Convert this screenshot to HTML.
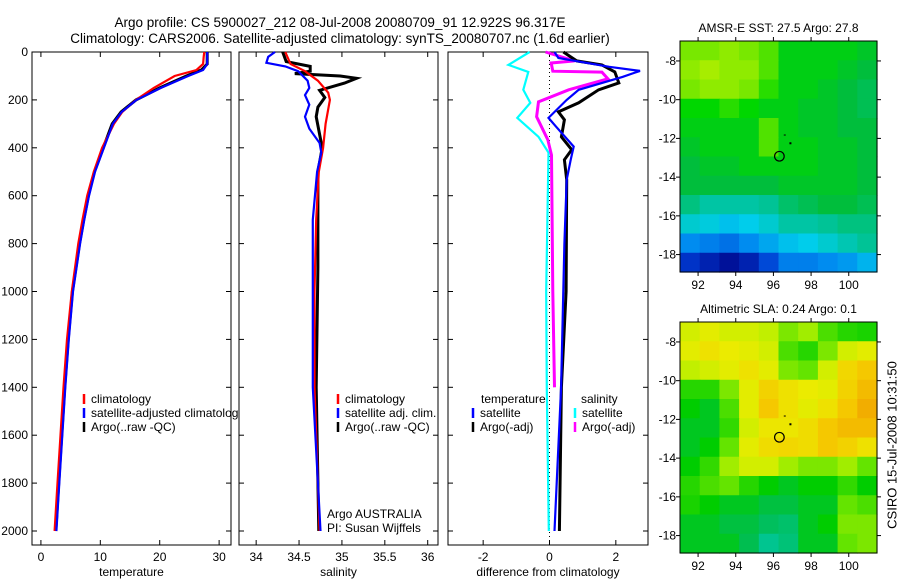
<!DOCTYPE html>
<html><head><meta charset="utf-8"><style>
html,body{margin:0;padding:0;background:#fff;}
svg{display:block;font-family:"Liberation Sans",sans-serif;}
</style></head><body>
<svg id="c" width="900" height="580" viewBox="0 0 900 580">
<text x="340" y="27" font-size="13.5" text-anchor="middle">Argo profile: CS 5900027_212 08-Jul-2008 20080709_91 12.922S 96.317E</text>
<text x="340" y="43" font-size="13.5" text-anchor="middle">Climatology: CARS2006. Satellite-adjusted climatology: synTS_20080707.nc (1.6d earlier)</text>
<text x="893" y="445" font-size="13" text-anchor="middle" transform="rotate(-90 893 445)" dominant-baseline="middle">CSIRO 15-Jul-2008 10:31:50</text>
</svg>
<script>
// ---------- data ----------
const tDepth=[0,20,50,75,100,150,200,250,300,400,500,600,700,800,1000,1200,1400,1600,1800,2000];
const tempArgo=[28,28,28,27,24.5,20,16,13.5,12,10.5,9,8,7.2,6.5,5.3,4.6,4.0,3.5,3.0,2.5];
const tempClim=[27.5,27.4,27.3,26.2,22.5,19,16,13.7,12.3,10.3,8.9,7.8,7.0,6.3,5.2,4.4,3.8,3.3,2.8,2.3];
const tempSat=[28,28,28,27.3,24.8,20.2,16.1,13.6,12.1,10.6,9.1,8.1,7.3,6.6,5.4,4.7,4.1,3.6,3.1,2.6];

const sDepthArgo=[0,40,60,80,90,100,110,130,160,190,230,270,400,500,600,900,1400,2000];
const salArgo=[34.31,34.35,34.63,34.63,34.45,34.98,35.17,35.03,34.74,34.8,34.72,34.7,34.77,34.72,34.72,34.72,34.7,34.73];
const sDepthClim=[0,50,80,120,170,200,300,400,500,700,1000,1400,2000];
const salClim=[34.34,34.4,34.57,34.72,34.84,34.86,34.81,34.78,34.73,34.7,34.68,34.68,34.74];
const sDepthSat=[0,20,45,60,80,120,150,180,220,270,320,380,420,500,700,1000,1400,2000];
const salSat=[34.22,34.14,34.12,34.34,34.49,34.6,34.62,34.57,34.62,34.57,34.62,34.74,34.76,34.71,34.66,34.66,34.66,34.75];

const dTempSatDepth=[0,25,62,79,104,158,200,275,312,395,450,533,800,1400,2000];
const dTempSat=[0.15,0.27,1.8,2.73,2.2,0.88,0.52,-0.03,0.2,0.73,0.64,0.52,0.45,0.35,0.15];
const dTempArgoDepth=[0,37,54,83,129,158,212,250,283,354,408,450,533,1000,1400,2000];
const dTempArgo=[0.42,0.82,1.58,1.97,2.09,1.48,0.88,0.27,0.45,0.36,0.67,0.45,0.52,0.5,0.36,0.3];
const dSalSatDepth=[0,54,83,158,212,275,354,420,1000,1400,2000];
const dSalSat=[-0.6,-1.24,-0.64,-0.79,-0.58,-0.97,-0.33,-0.03,-0.1,-0.08,-0.02];
const dSalArgoDepth=[0,37,46,80,84,112,158,208,270,366,430,1000,1400];
const dSalArgo=[-0.12,0.76,0.05,0.1,1.58,1.76,0.58,-0.33,-0.39,-0.05,0.06,0.1,0.15];

const sstGrid=[
[27.7,27.7,27.8,27.7,27.6,27.3,27.3,27.3,27.3,27.2],
[27.8,27.9,27.8,27.8,27.6,27.3,27.3,27.3,27.2,27.1],
[27.7,27.8,27.8,27.7,27.5,27.3,27.3,27.2,27.1,27.0],
[27.4,27.4,27.5,27.4,27.3,27.3,27.2,27.2,27.1,27.0],
[27.3,27.3,27.3,27.3,27.6,27.3,27.2,27.2,27.1,27.1],
[27.2,27.3,27.3,27.3,27.6,27.3,27.3,27.2,27.2,27.1],
[27.1,27.2,27.2,27.3,27.3,27.3,27.3,27.2,27.2,27.1],
[27.1,27.1,27.1,27.1,27.1,27.2,27.2,27.2,27.2,27.1],
[26.8,26.6,26.6,26.6,26.7,26.9,27.0,27.1,27.1,27.0],
[26.3,26.2,26.0,26.1,26.3,26.6,26.6,26.7,26.8,26.8],
[25.6,25.5,25.4,25.6,25.8,26.0,26.1,26.3,26.5,26.7],
[24.9,24.7,24.5,24.7,25.1,25.5,25.5,25.6,25.7,25.9]];
const slaGrid=[
[0.2,0.22,0.2,0.2,0.18,0.12,0.15,0.08,0.05,0.04],
[0.22,0.25,0.23,0.22,0.2,0.08,0.05,0.12,0.2,0.22],
[0.18,0.2,0.22,0.25,0.22,0.12,0.1,0.2,0.27,0.3],
[0.05,0.05,0.12,0.22,0.28,0.25,0.23,0.22,0.28,0.32],
[0.02,0.0,0.08,0.22,0.3,0.25,0.22,0.25,0.3,0.34],
[0.0,0.0,0.06,0.2,0.24,0.24,0.26,0.3,0.32,0.32],
[0.0,0.02,0.1,0.22,0.26,0.27,0.26,0.3,0.28,0.25],
[0.02,0.06,0.15,0.2,0.2,0.15,0.12,0.12,0.15,0.1],
[0.05,0.08,0.1,0.05,0.02,0.0,0.02,0.02,0.06,0.02],
[0.04,0.02,0.0,0.0,-0.02,-0.02,0.0,0.0,0.1,0.08],
[0.0,0.0,-0.02,-0.02,-0.04,-0.05,0.0,0.02,0.12,0.12],
[0.0,0.0,0.0,-0.03,-0.08,-0.06,0.0,0.0,0.1,0.12]];
const depthTicks=[0,200,400,600,800,1000,1200,1400,1600,1800,2000];
const tempTicks=[0,10,20,30];
const salTicks=[34,34.5,35,35.5,36];
const diffTicks=[-2,0,2];
const lonTicks=[92,94,96,98,100];
const latTicks=[-8,-10,-12,-14,-16,-18];

// ---------- helpers ----------
const NS="http://www.w3.org/2000/svg";
const svg=document.getElementById('c');
function mk(tag,at,parent){const e=document.createElementNS(NS,tag);for(const k in at)e.setAttribute(k,at[k]);(parent||svg).appendChild(e);return e;}
const Y0=52,Y1=545,yD=d=>Y0+d*0.2395;
function panel(name,x0,x1,vmin,vmax,ticks,xlabel,showY){
  const sx=v=>x0+(v-vmin)/(vmax-vmin)*(x1-x0);
  const g=mk('g',{});
  
  
  mk('rect',{x:x0,y:Y0,width:x1-x0,height:Y1-Y0,fill:'#fff',stroke:'#000','stroke-width':1},g);
  ticks.forEach(t=>{const x=sx(t);mk('line',{x1:x,x2:x,y1:Y1,y2:Y1-5,stroke:'#000'},g);mk('line',{x1:x,x2:x,y1:Y0,y2:Y0+5,stroke:'#000'},g);
    const tx=mk('text',{x:x,y:Y1+16,'font-size':12,'text-anchor':'middle'},g);tx.textContent=String(t);});
  depthTicks.forEach(d=>{const y=yD(d);mk('line',{x1:x0,x2:x0+5,y1:y,y2:y,stroke:'#000'},g);mk('line',{x1:x1,x2:x1-5,y1:y,y2:y,stroke:'#000'},g);
    if(showY){const tx=mk('text',{x:x0-4,y:y+4,'font-size':12,'text-anchor':'end'},g);tx.textContent=String(d);}});
  const xl=mk('text',{x:(x0+x1)/2,y:576,'font-size':12,'text-anchor':'middle'},g);xl.textContent=xlabel;
  return {sx,g};
}
function line(p,vals,depths,color,w,name){
  const pts=vals.map((v,i)=>p.sx(v).toFixed(1)+','+yD(depths[i]).toFixed(1)).join(' ');
  const e=mk('polyline',{points:pts,fill:'none',stroke:color,'stroke-width':w},p.g);
  
  
}
function legend(p,x,y,color,label,name){
  mk('line',{x1:x,x2:x,y1:y-9,y2:y+1,stroke:color,'stroke-width':2.5},p.g);
  const t=mk('text',{x:x+7,y:y,'font-size':12},p.g);t.textContent=label;
  
  
}

// ---------- panel 1 temperature ----------
const p1=panel('temperature-panel',32,231,-1.5,32,tempTicks,'temperature',true);
line(p1,tempArgo,tDepth,'#000',3,'temp-argo-line');
line(p1,tempClim,tDepth,'#f00',2.2,'temp-climatology-line');
line(p1,tempSat,tDepth,'#00f',2.2,'temp-satellite-line');
legend(p1,84,403,'#f00','climatology','legend-climatology');
legend(p1,84,417,'#00f','satellite-adjusted climatology','legend-satellite');
legend(p1,84,431,'#000','Argo(..raw -QC)','legend-argo');

// ---------- panel 2 salinity ----------
const p2=panel('salinity-panel',239,438,33.8,36.12,salTicks,'salinity',false);
line(p2,salArgo,sDepthArgo,'#000',3,'sal-argo-line');
line(p2,salClim,sDepthClim,'#f00',2.2,'sal-climatology-line');
line(p2,salSat,sDepthSat,'#00f',2.2,'sal-satellite-line');
legend(p2,338,403,'#f00','climatology','legend-sal-climatology');
legend(p2,338,417,'#00f','satellite adj. clim.','legend-sal-satellite');
legend(p2,338,431,'#000','Argo(..raw -QC)','legend-sal-argo');
let t=mk('text',{x:327,y:518,'font-size':12},p2.g);t.textContent='Argo AUSTRALIA';

t=mk('text',{x:327,y:532,'font-size':12},p2.g);t.textContent='PI: Susan Wijffels';


// ---------- panel 3 differences ----------
const p3=panel('difference-panel',448,648,-3.06,2.97,diffTicks,'difference from climatology',false);
mk('line',{x1:p3.sx(0),x2:p3.sx(0),y1:Y0,y2:yD(2040),stroke:'#000','stroke-dasharray':'1,3'},p3.g);
line(p3,dSalSat,dSalSatDepth,'#0ff',2.2,'diff-sal-satellite-line');
line(p3,dSalArgo,dSalArgoDepth,'#f0f',3,'diff-sal-argo-line');
line(p3,dTempArgo,dTempArgoDepth,'#000',3,'diff-temp-argo-line');
line(p3,dTempSat,dTempSatDepth,'#00f',2.2,'diff-temp-satellite-line');
t=mk('text',{x:481,y:403,'font-size':12},p3.g);t.textContent='temperature';
t=mk('text',{x:581,y:403,'font-size':12},p3.g);t.textContent='salinity';
legend(p3,473,417,'#00f','satellite','legend-diff-temp-sat');
legend(p3,473,431,'#000','Argo(-adj)','legend-diff-temp-argo');
legend(p3,575,417,'#0ff','satellite','legend-diff-sal-sat');
legend(p3,575,431,'#f0f','Argo(-adj)','legend-diff-sal-argo');

// ---------- maps ----------
function interp(stops,v){
  if(v<=stops[0][0])return 'rgb('+stops[0][1].join(',')+')';
  for(let i=1;i<stops.length;i++){if(v<=stops[i][0]){const a=stops[i-1],b=stops[i],f=(v-a[0])/(b[0]-a[0]);
    return 'rgb('+[0,1,2].map(k=>Math.round(a[1][k]+f*(b[1][k]-a[1][k]))).join(',')+')';}}
  const l=stops[stops.length-1][1];return 'rgb('+l.join(',')+')';
}
const sstStops=[[24.3,[0,0,130]],[25.0,[0,60,210]],[25.6,[0,140,240]],[26.1,[0,205,235]],[26.7,[0,195,150]],[27.1,[0,190,60]],[27.4,[0,215,0]],[27.7,[120,232,0]],[28,[190,240,0]]];
const slaStops=[[-0.1,[0,200,170]],[-0.03,[0,190,80]],[0.02,[0,205,0]],[0.1,[100,228,0]],[0.17,[185,240,0]],[0.23,[235,235,0]],[0.3,[245,200,0]],[0.36,[240,160,0]]];
function mapPanel(name,y0,grid,stops,title){
  const x0=680,x1=877,h=231,lon0=91.04,lon1=101.5,lat0=-6.97,lat1=-18.9;
  const sx=v=>x0+(v-lon0)/(lon1-lon0)*(x1-x0), sy=v=>y0+(v-lat0)/(lat1-lat0)*h;
  const g=mk('g',{});
  
  
  const rows=grid.length,cols=grid[0].length,cw=(x1-x0)/cols,ch=h/rows;
  grid.forEach((row,r)=>row.forEach((v,c)=>{
    const e=mk('rect',{x:(x0+c*cw).toFixed(2),y:(y0+r*ch).toFixed(2),width:(cw+0.6).toFixed(2),height:(ch+0.6).toFixed(2),fill:interp(stops,v)},g);
    
    
  }));
  mk('rect',{x:x0,y:y0,width:x1-x0,height:h,fill:'none',stroke:'#000'},g);
  lonTicks.forEach(v=>{const x=sx(v);mk('line',{x1:x,x2:x,y1:y0+h,y2:y0+h+4,stroke:'#000'},g);mk('line',{x1:x,x2:x,y1:y0,y2:y0-4,stroke:'#000'},g);
    const tx=mk('text',{x:x,y:y0+h+17,'font-size':12,'text-anchor':'middle'},g);tx.textContent=String(v);});
  latTicks.forEach(v=>{const y=sy(v);mk('line',{x1:x0,x2:x0-4,y1:y,y2:y,stroke:'#000'},g);mk('line',{x1:x1,x2:x1+4,y1:y,y2:y,stroke:'#000'},g);
    const tx=mk('text',{x:x0-4,y:y+4,'font-size':12,'text-anchor':'end'},g);tx.textContent=String(v);});
  const tt=mk('text',{x:(x0+x1)/2,y:y0-9,'font-size':12,'text-anchor':'middle'},g);tt.textContent=title;
  
  
  const m=mk('circle',{cx:sx(96.317),cy:sy(-12.922),r:4.8,fill:'none',stroke:'#000','stroke-width':1.2},g);
  
  
  mk('rect',{x:sx(96.55),y:sy(-11.8),width:2,height:1,fill:'#000'},g);
  mk('rect',{x:sx(96.85),y:sy(-12.2),width:2,height:2,fill:'#000'},g);
}
mapPanel('sst-map',41,sstGrid,sstStops,'AMSR-E SST: 27.5 Argo: 27.8');
mapPanel('sla-map',322,slaGrid,slaStops,'Altimetric SLA: 0.24 Argo: 0.1');
</script>
</body></html>
